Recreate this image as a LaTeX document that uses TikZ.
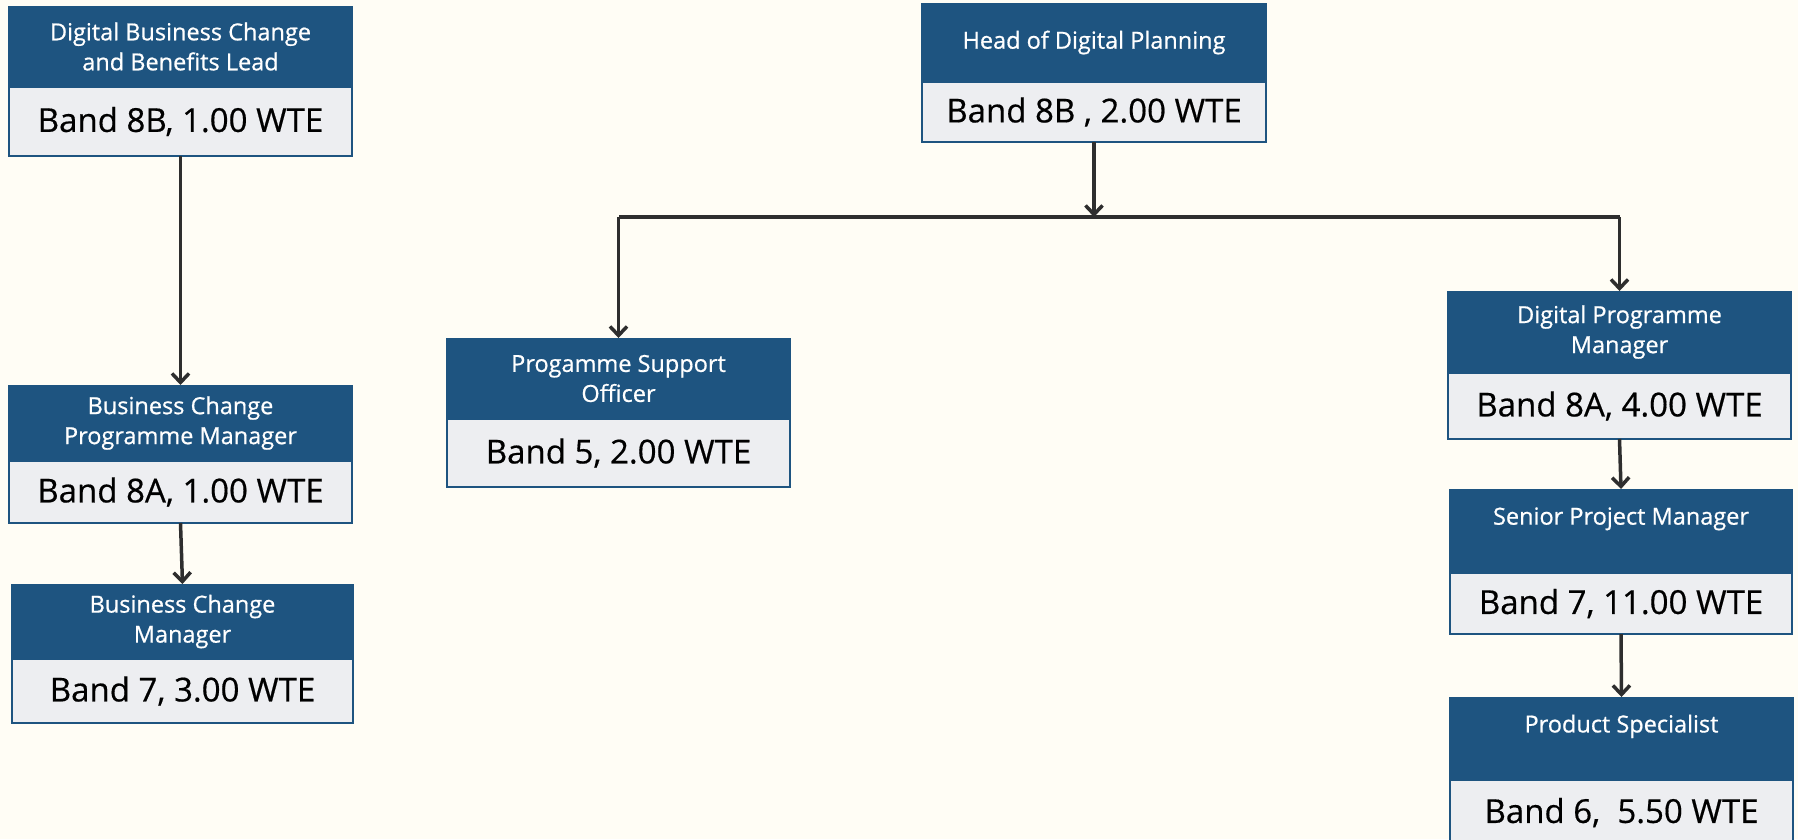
\documentclass[tikz,border=0pt]{standalone}
\usepackage{fontspec}
\setmainfont{Open Sans}
\newfontfamily\titlefont[FakeBold=0.7]{Open Sans}
\newfontfamily\bandfont[FakeBold=0.5]{Open Sans}
\usetikzlibrary{arrows.meta}
\definecolor{bgcream}{HTML}{FFFDF5}
\definecolor{hdblue}{HTML}{1E5480}
\definecolor{bandgray}{HTML}{EDEEF1}
\definecolor{arrgray}{HTML}{2E2E2E}
\tikzset{
  headbox/.style={rectangle, fill=hdblue, draw=none, inner sep=0pt, outer sep=0pt,
    anchor=north west, align=center, text=white,
    font=\titlefont\fontsize{23.5}{30}\selectfont},
  bandbox/.style={rectangle, fill=bandgray, draw=hdblue, line width=2pt, inner sep=0pt, outer sep=0pt,
    anchor=north west, align=center, text=black,
    font=\bandfont\fontsize{33}{38}\selectfont},
  conn/.style={draw=arrgray, line width=3.5pt, -{Straight Barb[length=9pt,width=17pt,line width=3.5pt]}},
  trunk/.style={draw=arrgray, line width=3.5pt}
}
\begin{document}
\begin{tikzpicture}[x=1pt,y=-1pt]
\useasboundingbox (0,0) rectangle (1798,839);
\clip (0,0) rectangle (1798,839);
\fill[bgcream] (0,0) rectangle (1798,839);

% Box A
\node[headbox, minimum width=345pt, minimum height=81pt] (aH) at (8,6) {Digital Business Change\\and Benefits Lead};
\node[bandbox, minimum width=343pt, minimum height=69pt] (aB) at (9,87) {Band 8B, 1.00 WTE};
% Box B
\node[headbox, minimum width=346pt, minimum height=79pt] (bH) at (921,3) {Head of Digital Planning};
\node[bandbox, minimum width=344pt, minimum height=60pt] (bB) at (922,82) {Band 8B , 2.00 WTE};
% Box C
\node[headbox, minimum width=345pt, minimum height=81pt] (cH) at (446,338) {Progamme Support\\Officer};
\node[bandbox, minimum width=343pt, minimum height=68pt] (cB) at (447,419) {Band 5, 2.00 WTE};
% Box D
\node[headbox, minimum width=345pt, minimum height=76pt] (dH) at (8,385) {Business Change\\Programme Manager};
\node[bandbox, minimum width=343pt, minimum height=62pt] (dB) at (9,461) {Band 8A, 1.00 WTE};
% Box E
\node[headbox, minimum width=343pt, minimum height=75pt] (eH) at (11,584) {Business Change\\Manager};
\node[bandbox, minimum width=341pt, minimum height=64pt] (eB) at (12,659) {Band 7, 3.00 WTE};
% Box F
\node[headbox, minimum width=345pt, minimum height=82pt] (fH) at (1447,291) {Digital Programme\\Manager};
\node[bandbox, minimum width=343pt, minimum height=66pt] (fB) at (1448,373) {Band 8A, 4.00 WTE};
% Box G
\node[headbox, minimum width=344pt, minimum height=84pt] (gH) at (1449,489) {Senior Project Manager\\\mbox{}};
\node[bandbox, minimum width=342pt, minimum height=61pt] (gB) at (1450,573) {Band 7, 11.00 WTE};
% Box H
\node[headbox, minimum width=345pt, minimum height=83pt] (hH) at (1449,697) {Product Specialist\\\mbox{}};
\node[bandbox, minimum width=343pt, minimum height=65pt] (hB) at (1450,780) {Band 6,\ \ 5.50 WTE};

% connectors
\coordinate (j) at (1094,217);
\draw[conn] (bB.south) -- (j);
\draw[trunk] (j) -- (j -| cH.north) coordinate (jl);
\draw[trunk] (j) -- (j -| fH.north) coordinate (jr);
\draw[conn] (jl) -- (cH.north);
\draw[conn] (jr) -- (fH.north);
\draw[conn] (aB.south) -- (dH.north);
\draw[conn] (dB.south) -- (eH.north);
\draw[conn] (fB.south) -- (gH.north);
\draw[conn] (gB.south) -- (hH.north);
\end{tikzpicture}
\end{document}
